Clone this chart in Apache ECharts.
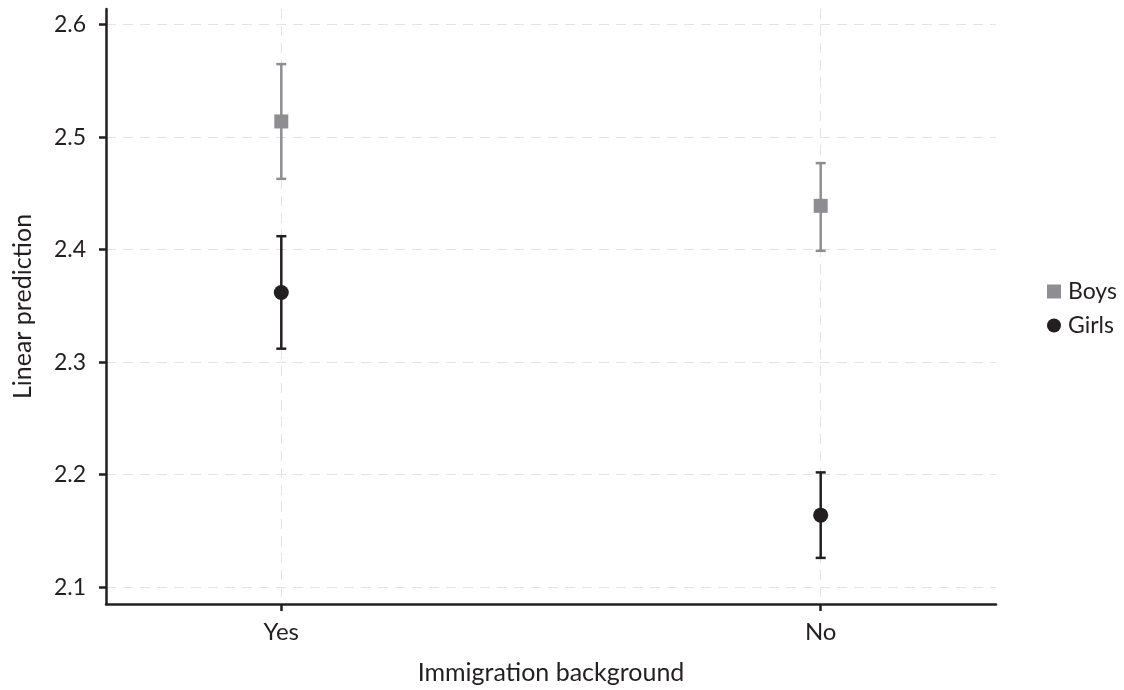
<!DOCTYPE html>
<html>
<head>
<meta charset="utf-8">
<script src="https://cdn.jsdelivr.net/npm/echarts@6/dist/echarts.min.js"></script>
<style>
html, body { margin: 0; padding: 0; background: #fff; }
#main { width: 1124px; height: 690px; }
</style>
</head>
<body>
<div id="main"></div>
<script>
// categories on the x axis (placed at 1 and 2)
var groups = ['Yes', 'No'];
var groupPos = [1, 2];

// point estimates and 95% CI
var boysMean = [2.514, 2.439];
var boysLow = [2.463, 2.399];
var boysHigh = [2.565, 2.477];

var girlsMean = [2.362, 2.164];
var girlsLow = [2.312, 2.126];
var girlsHigh = [2.412, 2.202];

var yTicks = [2.1, 2.2, 2.3, 2.4, 2.5, 2.6];

var textColor = '#231f20';
var boysColor = '#8e8e92';
var girlsColor = '#231f20';
var fontFamily = 'Lato, "Open Sans", sans-serif';

var pointData = function (mean) {
    return groupPos.map(function (x, i) { return [x, mean[i]]; });
};

var barData = function (low, high) {
    return groupPos.map(function (x, i) { return [x, low[i], high[i]]; });
};

var errorBar = function (color) {
    return function (params, api) {
        var x = api.value(0);
        var lo = api.coord([x, api.value(1)]);
        var hi = api.coord([x, api.value(2)]);
        var w = 5;
        var st = { stroke: color, lineWidth: 2.5 };
        return {
            type: 'group',
            children: [
                { type: 'line', shape: { x1: lo[0], y1: lo[1], x2: hi[0], y2: hi[1] }, style: st },
                { type: 'line', shape: { x1: lo[0] - w, y1: lo[1], x2: lo[0] + w, y2: lo[1] }, style: st },
                { type: 'line', shape: { x1: hi[0] - w, y1: hi[1], x2: hi[0] + w, y2: hi[1] }, style: st }
            ]
        };
    };
};

var myChart = echarts.init(document.getElementById('main'));

var option = {
    backgroundColor: '#fff',
    textStyle: { fontFamily: fontFamily },
    animation: false,
    grid: {
        left: 106,
        right: 128,
        top: 9,
        bottom: 85
    },
    legend: {
        orient: 'vertical',
        left: 1042,
        top: 275,
        itemGap: 11,
        itemWidth: 14,
        itemHeight: 14,
        textStyle: { fontSize: 23, color: textColor, fontFamily: fontFamily, padding: [0, 0, 0, 2] },
        data: [
            { name: 'Boys', icon: 'rect' },
            { name: 'Girls', icon: 'circle' }
        ]
    },
    xAxis: {
        type: 'value',
        min: 0.675,
        max: 2.325,
        name: 'Immigration background',
        nameLocation: 'middle',
        nameGap: 56,
        nameTextStyle: { fontSize: 25, color: textColor },
        axisLine: { lineStyle: { color: textColor, width: 2.5 } },
        axisTick: { show: true, length: 7, customValues: groupPos, lineStyle: { color: textColor, width: 2.5 } },
        axisLabel: {
            customValues: groupPos,
            fontSize: 24,
            color: textColor,
            margin: 16,
            formatter: function (v) {
                var i = groupPos.indexOf(v);
                return i >= 0 ? groups[i] : '';
            }
        },
        splitLine: { show: true, lineStyle: { color: '#e3e3e3', width: 1, type: [10, 7] } }
    },
    yAxis: {
        type: 'value',
        min: 2.085,
        max: 2.614,
        name: 'Linear prediction',
        nameLocation: 'middle',
        nameGap: 71,
        nameTextStyle: { fontSize: 25, color: textColor },
        axisLine: { show: true, lineStyle: { color: textColor, width: 2.5 } },
        axisTick: { show: true, length: 7, customValues: yTicks, lineStyle: { color: textColor, width: 2.5 } },
        axisLabel: {
            customValues: yTicks,
            fontSize: 23,
            color: textColor,
            margin: 20,
            formatter: function (v) { return v.toFixed(1); }
        },
        splitLine: { show: true, lineStyle: { color: '#e3e3e3', width: 1, type: [10, 7] } }
    },
    series: [
        {
            name: 'Boys',
            type: 'custom',
            renderItem: errorBar(boysColor),
            data: barData(boysLow, boysHigh),
            itemStyle: { color: boysColor },
            z: 2
        },
        {
            name: 'Girls',
            type: 'custom',
            renderItem: errorBar(girlsColor),
            data: barData(girlsLow, girlsHigh),
            itemStyle: { color: girlsColor },
            z: 2
        },
        {
            name: 'Boys',
            type: 'scatter',
            symbol: 'rect',
            symbolSize: 14,
            data: pointData(boysMean),
            itemStyle: { color: boysColor, opacity: 1 },
            z: 3
        },
        {
            name: 'Girls',
            type: 'scatter',
            symbol: 'circle',
            symbolSize: 15,
            data: pointData(girlsMean),
            itemStyle: { color: girlsColor, opacity: 1 },
            z: 3
        }
    ]
};

myChart.setOption(option);
</script>
</body>
</html>
